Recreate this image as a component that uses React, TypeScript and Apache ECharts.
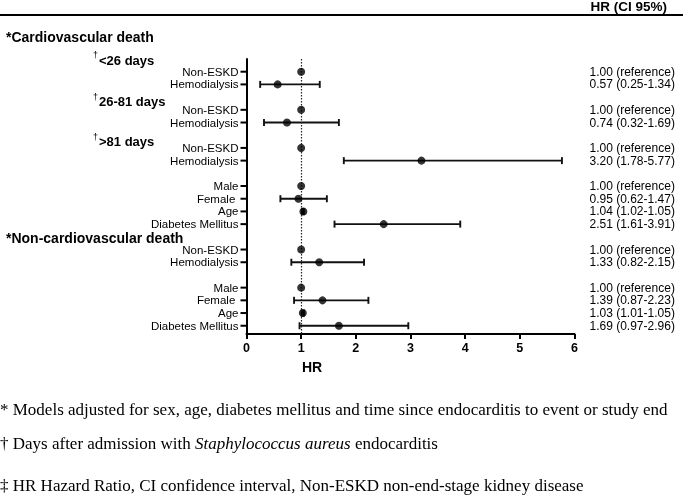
import React, { useEffect, useRef } from "react";
import * as echarts from "echarts";

// Row slots (blank entries are spacer slots between groups)
const rowLabels = [
  "Non-ESKD", "Hemodialysis", "",
  "Non-ESKD", "Hemodialysis", "",
  "Non-ESKD", "Hemodialysis", "",
  "Male", "Female ", "Age", "Diabetes Mellitus", "",
  "Non-ESKD", "Hemodialysis", "",
  "Male", "Female ", "Age", "Diabetes Mellitus",
];
const hr = [1.0, 0.57, null, 1.0, 0.74, null, 1.0, 3.2, null, 1.0, 0.95, 1.04, 2.51, null, 1.0, 1.33, null, 1.0, 1.39, 1.03, 1.69];
const ciLow = [null, 0.25, null, null, 0.32, null, null, 1.78, null, null, 0.62, 1.02, 1.61, null, null, 0.82, null, null, 0.87, 1.01, 0.97];
const ciHigh = [null, 1.34, null, null, 1.69, null, null, 5.77, null, null, 1.47, 1.05, 3.91, null, null, 2.15, null, null, 2.23, 1.05, 2.96];
const xTicks = [0, 1, 2, 3, 4, 5, 6];

const sectionHeadings = ["*Cardiovascular death", "*Non-cardiovascular death"];
const subHeadings = ["<26 days", "26-81 days", ">81 days"];
const footnotes = [
  "* Models adjusted for sex, age, diabetes mellitus and time since endocarditis to event or study end",
  "‡ HR Hazard Ratio, CI confidence interval, Non-ESKD non-end-stage kidney disease",
];

const ciText = hr.map((v, i) => {
  if (v === null) return "";
  const lo = ciLow[i];
  const hi = ciHigh[i];
  if (lo === null || hi === null) return `${v.toFixed(2)} (reference)`;
  return `${v.toFixed(2)} (${lo.toFixed(2)}-${hi.toFixed(2)})`;
});

const SANS = "'Liberation Sans', Arial, Helvetica, sans-serif";
const SERIF = "'Liberation Serif', 'Times New Roman', serif";

export default function App() {
  const ref = useRef<HTMLDivElement>(null);
  useEffect(() => {
    if (!ref.current) return;
    const chart = echarts.init(ref.current, null, { renderer: "svg" });

    const pointData: any[] = [];
    const barData: any[] = [];
    const tickData: any[] = [];
    hr.forEach((v, i) => {
      if (v === null) return;
      pointData.push([v, i]);
      tickData.push([0, i]);
      if (ciLow[i] !== null && ciHigh[i] !== null) barData.push([i, ciLow[i], ciHigh[i]]);
    });

    const yBase = {
      type: "value",
      inverse: true,
      min: -1,
      max: 20.65,
      interval: 1,
      splitLine: { show: false },
      axisTick: { show: false },
    };

    const option: any = {
      animation: false,
      grid: { left: 246.5, right: 110.5, top: 59, bottom: 162, containLabel: false },
      xAxis: {
        type: "value",
        min: 0,
        max: 6,
        interval: 1,
        splitLine: { show: false },
        axisLine: { show: true, onZero: false, lineStyle: { color: "#000", width: 2 } },
        axisTick: { show: true, length: 5, lineStyle: { color: "#000", width: 2 } },
        axisLabel: {
          margin: 7,
          color: "#000",
          fontFamily: SANS,
          fontWeight: "bold",
          fontSize: 12.5,
          formatter: (v: number) => (xTicks.includes(v) ? String(v) : ""),
        },
      },
      yAxis: [
        {
          ...yBase,
          position: "left",
          axisLine: { show: true, onZero: false, lineStyle: { color: "#000", width: 2 } },
          axisLabel: {
            margin: 8,
            color: "#000",
            fontFamily: SANS,
            fontSize: 11.5,
            formatter: (v: number) => (Number.isInteger(v) && v >= 0 ? rowLabels[v] ?? "" : ""),
          },
        },
        {
          ...yBase,
          position: "right",
          axisLine: { show: false, onZero: false },
          axisLabel: {
            margin: 15,
            color: "#000",
            fontFamily: SANS,
            fontSize: 12,
            formatter: (v: number) => (Number.isInteger(v) && v >= 0 ? ciText[v] ?? "" : ""),
          },
        },
      ],
      series: [
        {
          type: "custom",
          name: "yticks",
          data: tickData,
          encode: { x: 0, y: 1 },
          clip: false,
          silent: true,
          renderItem: (params: any, api: any) => {
            const p = api.coord([api.value(0), api.value(1)]);
            return {
              type: "line",
              shape: { x1: p[0] - 6, y1: p[1], x2: p[0], y2: p[1] },
              style: { stroke: "#000", lineWidth: 2 },
            };
          },
        },
        {
          type: "custom",
          name: "ci",
          data: barData,
          encode: { x: [1, 2], y: 0 },
          z: 3,
          silent: true,
          renderItem: (params: any, api: any) => {
            const row = api.value(0);
            const p1 = api.coord([api.value(1), row]);
            const p2 = api.coord([api.value(2), row]);
            const h = 3.5;
            const style = { stroke: "#111", lineWidth: 1.9 };
            return {
              type: "group",
              children: [
                { type: "line", shape: { x1: p1[0], y1: p1[1], x2: p2[0], y2: p2[1] }, style },
                { type: "line", shape: { x1: p1[0], y1: p1[1] - h, x2: p1[0], y2: p1[1] + h }, style },
                { type: "line", shape: { x1: p2[0], y1: p2[1] - h, x2: p2[0], y2: p2[1] + h }, style },
              ],
            };
          },
        },
        {
          type: "scatter",
          name: "HR",
          data: pointData,
          symbol: "circle",
          symbolSize: 8,
          z: 5,
          itemStyle: { color: "#000" },
          markLine: {
            silent: true,
            symbol: "none",
            label: { show: false },
            lineStyle: { color: "#222", width: 1.2, type: [1.5, 1.5] },
            data: [{ xAxis: 1 }],
          },
        },
      ],
      graphic: [
        { type: "line", shape: { x1: 0, y1: 15, x2: 683, y2: 15 }, style: { stroke: "#000", lineWidth: 2 } },
        {
          type: "text",
          x: 667,
          y: 6,
          style: { text: "HR (CI 95%)", fill: "#000", font: `bold 13.5px ${SANS}`, textAlign: "right", textVerticalAlign: "middle" },
        },
        {
          type: "text",
          x: 6,
          y: 37,
          style: { text: sectionHeadings[0], fill: "#000", font: `bold 14px ${SANS}`, textAlign: "left", textVerticalAlign: "middle" },
        },
        {
          type: "text",
          x: 6,
          y: 238,
          style: { text: sectionHeadings[1], fill: "#000", font: `bold 14px ${SANS}`, textAlign: "left", textVerticalAlign: "middle" },
        },
        ...[60, 101.5, 141.5].flatMap((y, k) => [
          {
            type: "text",
            x: 93,
            y: y - 5,
            style: { text: "†", fill: "#000", font: `9px ${SANS}`, textAlign: "left", textVerticalAlign: "middle" },
          },
          {
            type: "text",
            x: 99,
            y,
            style: { text: subHeadings[k], fill: "#000", font: `bold 13px ${SANS}`, textAlign: "left", textVerticalAlign: "middle" },
          },
        ]),
        {
          type: "text",
          x: 312,
          y: 367,
          style: { text: "HR", fill: "#000", font: `bold 14px ${SANS}`, textAlign: "center", textVerticalAlign: "middle" },
        },
        {
          type: "text",
          x: 0,
          y: 409,
          style: { text: footnotes[0], fill: "#000", font: `17px ${SERIF}`, textAlign: "left", textVerticalAlign: "middle" },
        },
        {
          type: "text",
          x: 0,
          y: 443,
          style: {
            text: "{n|† Days after admission with }{i|Staphylococcus aureus}{n| endocarditis}",
            fill: "#000",
            font: `17px ${SERIF}`,
            textAlign: "left",
            textVerticalAlign: "middle",
            rich: {
              n: { fontFamily: SERIF, fontSize: 17, fill: "#000" },
              i: { fontFamily: SERIF, fontSize: 17, fontStyle: "italic", fill: "#000" },
            },
          },
        },
        {
          type: "text",
          x: 0,
          y: 485,
          style: { text: footnotes[1], fill: "#000", font: `17px ${SERIF}`, textAlign: "left", textVerticalAlign: "middle" },
        },
      ],
    };

    chart.setOption(option);
    return () => chart.dispose();
  }, []);

  return <div ref={ref} style={{ position: "fixed", left: 0, top: 0, width: 685, height: 496 }} />;
}
